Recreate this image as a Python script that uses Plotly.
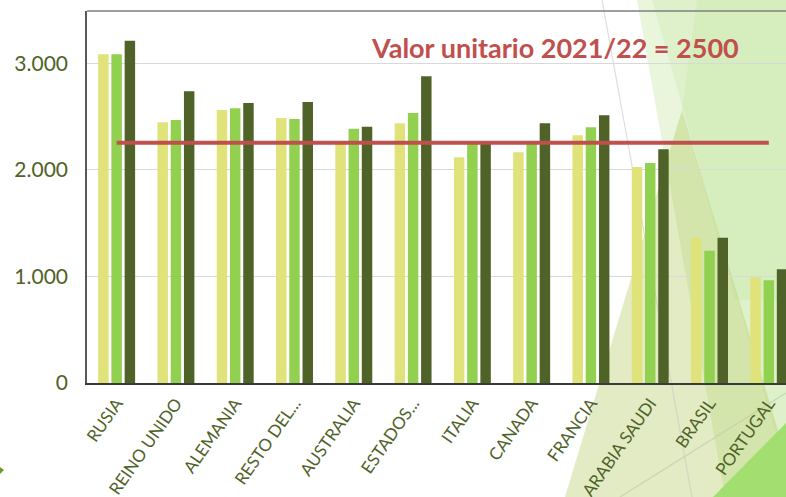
import plotly.graph_objects as go

# ---------------- data ----------------
CATEGORIES = ["RUSIA", "REINO UNIDO", "ALEMANIA", "RESTO DEL...", "AUSTRALIA",
              "ESTADOS...", "ITALIA", "CANADA", "FRANCIA", "ARABIA SAUDI",
              "BRASIL", "PORTUGAL"]
SERIES_NAMES = ["2019/20", "2020/21", "2021/22"]
SERIES_1 = [3085, 2446, 2562, 2487, 2252, 2437, 2118, 2165, 2324, 2027, 1362, 993]
SERIES_2 = [3085, 2468, 2578, 2477, 2385, 2533, 2250, 2250, 2399, 2064, 1240, 965]
SERIES_3 = [3211, 2737, 2627, 2637, 2404, 2877, 2255, 2437, 2512, 2193, 1362, 1068]
REF_VALUE = 2255
REF_LABEL = "Valor unitario 2021/22 = 2500"
Y_TICK_VALUES = [0, 1000, 2000, 3000]
Y_TICK_LABELS = ["0", "1.000", "2.000", "3.000"]

# ---------------- style ----------------
COLORS = ["#e0e27a", "#92d050", "#4f6228"]
TEXT_COLOR = "#4f6228"
RED = "#c0504d"
FONT = "Lato"

W_FIG, H_FIG = 786, 497
M_L, M_R, M_T, M_B = 87, 0, 11, 114
PW = W_FIG - M_L - M_R
PH = H_FIG - M_T - M_B


def px(x, y):
    """convert figure pixel coords to paper coords (decoration only)"""
    return (x - M_L) / PW, (H_FIG - M_B - y) / PH


def poly(points):
    pts = [px(x, y) for x, y in points]
    d = "M " + " L ".join(f"{a:.4f},{b:.4f}" for a, b in pts) + " Z"
    return d


fig = go.Figure()
for name, vals, col in zip(SERIES_NAMES, [SERIES_1, SERIES_2, SERIES_3], COLORS):
    fig.add_trace(go.Bar(x=CATEGORIES, y=vals, name=name, marker_color=col,
                         marker_line_width=0, showlegend=False))

fig.add_trace(go.Scatter(x=[CATEGORIES[0], CATEGORIES[-1]], y=[REF_VALUE, REF_VALUE],
                         mode="lines", line=dict(color=RED, width=4),
                         showlegend=False, hoverinfo="skip"))

shapes = []
# decorative translucent background shapes
shapes.append(dict(type="path", xref="paper", yref="paper", layer="below",
                   path=poly([(637, 0), (786, 0), (786, 497), (725, 497)]),
                   fillcolor="rgba(146,208,80,0.20)", line=dict(width=0)))
shapes.append(dict(type="path", xref="paper", yref="paper", layer="below",
                   path=poly([(652, 0), (786, 0), (786, 470)]),
                   fillcolor="rgba(146,208,80,0.12)", line=dict(width=0)))
shapes.append(dict(type="path", xref="paper", yref="paper", layer="below",
                   path=poly([(697, 0), (786, 0), (786, 300), (735, 300), (682, 110)]),
                   fillcolor="rgba(146,208,80,0.10)", line=dict(width=0)))
shapes.append(dict(type="path", xref="paper", yref="paper", layer="below",
                   path=poly([(682, 110), (565, 497), (786, 497), (786, 457)]),
                   fillcolor="rgba(176,200,88,0.36)", line=dict(width=0)))
shapes.append(dict(type="path", xref="paper", yref="paper", layer="below",
                   path=poly([(713, 497), (786, 423), (786, 497)]),
                   fillcolor="#a3df70", line=dict(width=0)))
# thin decorative lines
a = px(602, 0); b = px(692, 497)
shapes.append(dict(type="line", xref="paper", yref="paper", layer="below",
                   x0=a[0], y0=a[1], x1=b[0], y1=b[1],
                   line=dict(color="rgba(200,200,200,0.6)", width=1.2)))
a = px(620, 497); b = px(786, 393)
shapes.append(dict(type="line", xref="paper", yref="paper", layer="below",
                   x0=a[0], y0=a[1], x1=b[0], y1=b[1],
                   line=dict(color="rgba(190,205,170,0.7)", width=1.2)))
# small green mark at bottom left
shapes.append(dict(type="path", xref="paper", yref="paper", layer="above",
                   path=poly([(0, 467), (4, 470), (0, 474)]),
                   fillcolor="#6aa121", line=dict(width=0)))
# top border of the plot area
shapes.append(dict(type="line", xref="paper", yref="paper", layer="above",
                   x0=0, y0=1, x1=1, y1=1, line=dict(color="#7f7f7f", width=1.5)))

ax, ay = px(554.5, 47)
fig.update_layout(
    width=W_FIG, height=H_FIG,
    margin=dict(l=M_L, r=M_R, t=M_T, b=M_B, pad=0, autoexpand=False),
    paper_bgcolor="white", plot_bgcolor="rgba(0,0,0,0)",
    barmode="group", bargap=0.33, bargroupgap=0.21,
    font=dict(family=FONT, color=TEXT_COLOR),
    shapes=shapes,
    annotations=[dict(text=REF_LABEL, xref="paper", yref="paper", x=ax, y=ay,
                      xanchor="center", yanchor="middle", showarrow=False,
                      font=dict(family=FONT, size=27, color=RED, weight="bold"))],
    xaxis=dict(range=[-0.5, 11.29], tickangle=-55, showgrid=False, automargin=False,
               showline=True, linecolor="#3a3a3a", linewidth=1.5,
               tickfont=dict(family=FONT, size=17, color=TEXT_COLOR),
               ticks="", ticklabelstandoff=2, fixedrange=True),
    yaxis=dict(range=[0, 3490], tickvals=Y_TICK_VALUES, ticktext=Y_TICK_LABELS,
               automargin=False,
               showgrid=True, gridcolor="#d9d9d9", gridwidth=1,
               zeroline=False, showline=True, linecolor="#595959", linewidth=1.5,
               tickfont=dict(family=FONT, size=21, color=TEXT_COLOR),
               ticks="", ticklabelstandoff=13, fixedrange=True),
)

fig.write_html("out.html", config={"displayModeBar": False},
               post_script="document.body.style.margin='0';")
